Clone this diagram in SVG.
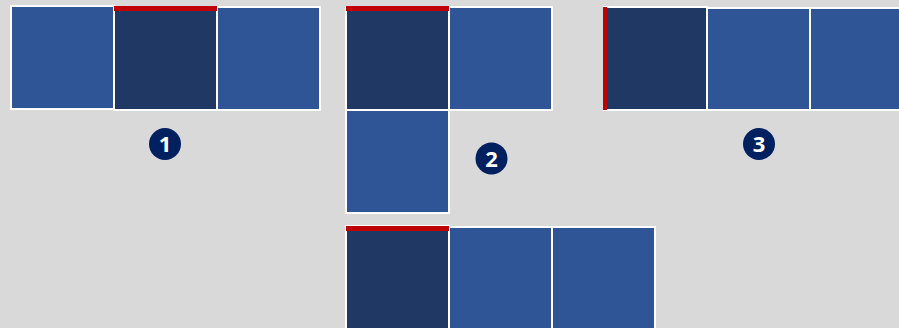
<svg xmlns="http://www.w3.org/2000/svg" width="899" height="328" viewBox="0 0 899 328">
<style>
.l{fill:#2F5597;stroke:#FFFFFF;stroke-width:2}
.d{fill:#203864;stroke:#FFFFFF;stroke-width:2}
.r{fill:#C00000}
.c{fill:#002060}
.t{fill:#FFFFFF;font-family:"Open Sans","Liberation Sans",sans-serif;font-weight:bold;font-size:22px;text-anchor:middle}
</style>
<rect width="899" height="328" fill="#D9D9D9"/>
<g id="layout1">
<rect class="l" x="11" y="6" width="103" height="103"/>
<rect class="d" x="114" y="7" width="103" height="103"/>
<rect class="l" x="217" y="7" width="103" height="103"/>
<rect class="r" x="114" y="6" width="103" height="5"/>
</g>
<g id="badge1"><circle class="c" cx="165" cy="144" r="16"/><text class="t" x="165" y="152">1</text></g>
<g id="layout2">
<rect class="d" x="346" y="7" width="103" height="103"/>
<rect class="l" x="449" y="7" width="103" height="103"/>
<rect class="l" x="346" y="110" width="103" height="103"/>
<rect class="r" x="346" y="6" width="103" height="5"/>
</g>
<g id="badge2"><circle class="c" cx="491.5" cy="158.5" r="16"/><text class="t" x="491.5" y="166.5">2</text></g>
<g id="layout3">
<rect class="d" x="604" y="7" width="103" height="103"/>
<rect class="l" x="707" y="8" width="103" height="102"/>
<rect class="l" x="810" y="8" width="103" height="102"/>
<rect class="r" x="603" y="7" width="4" height="103"/>
</g>
<g id="badge3"><circle class="c" cx="759" cy="144" r="16"/><text class="t" x="759" y="152">3</text></g>
<g id="layout4">
<rect class="d" x="346" y="226" width="103" height="110"/>
<rect class="l" x="449" y="227" width="103" height="110"/>
<rect class="l" x="552" y="227" width="103" height="110"/>
<rect class="r" x="346" y="226" width="103" height="5"/>
</g>
<g id="connectors"/>
</svg>
